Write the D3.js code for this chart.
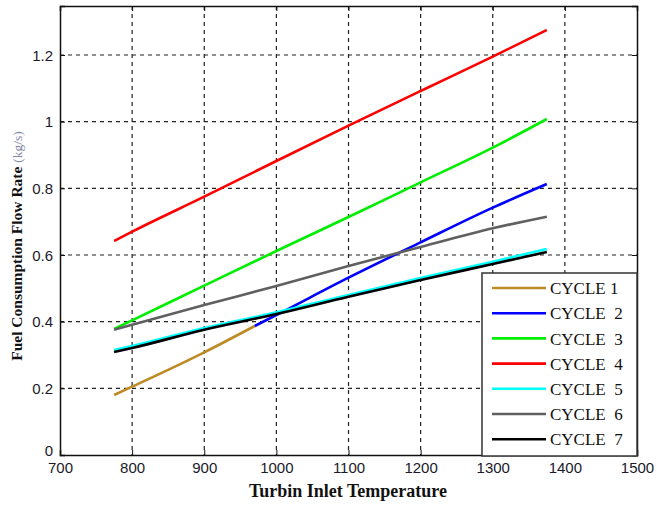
<!DOCTYPE html>
<html><head><meta charset="utf-8">
<script src="https://cdn.jsdelivr.net/npm/d3@7"></script>
<style>body{margin:0;background:#fff}svg{display:block}</style>
</head><body><svg id="c" width="657" height="506"></svg>
<script>
const xTicks = [700,800,900,1000,1100,1200,1300,1400,1500];
const yTicks = [0,0.2,0.4,0.6,0.8,1,1.2];
const seriesNames = ["CYCLE 1","CYCLE  2","CYCLE  3","CYCLE  4","CYCLE  5","CYCLE  6","CYCLE  7"];
const seriesColors = ["#bd8a26","#0000ff","#00ee00","#ff0000","#00ffff","#606060","#000000"];
const tempFull = [775,800,900,1000,1100,1200,1300,1375];
const temp1 = [775,800,900,970];
const temp2 = [970,1000,1100,1200,1300,1375];
const cycle1 = [0.180,0.205,0.308,0.387];
const cycle2 = [0.387,0.420,0.532,0.638,0.742,0.813];
const cycle3 = [0.378,0.404,0.508,0.612,0.714,0.818,0.922,1.008];
const cycle4 = [0.642,0.670,0.775,0.882,0.988,1.092,1.195,1.275];
const cycle5 = [0.315,0.327,0.381,0.428,0.480,0.531,0.580,0.618];
const cycle6 = [0.376,0.391,0.450,0.507,0.567,0.624,0.680,0.715];
const cycle7 = [0.309,0.321,0.376,0.423,0.475,0.525,0.573,0.609];

const series = [
  {t:temp1,v:cycle1},{t:temp2,v:cycle2},{t:tempFull,v:cycle3},{t:tempFull,v:cycle4},
  {t:tempFull,v:cycle5},{t:tempFull,v:cycle6},{t:tempFull,v:cycle7}
].map((s,i)=>({name:seriesNames[i],color:seriesColors[i],pts:s.t.map((t,j)=>[t,s.v[j]])}));

const svg = d3.select("#c");
const L=60,R=637,T=6,B=455;
const x = d3.scaleLinear().domain([700,1500]).range([L,R]);
const y = d3.scaleLinear().domain([0,1.347]).range([B,T]);

// grid
const g = svg.append("g");
g.selectAll(".gx").data(xTicks.slice(1,-1)).enter().append("line")
  .attr("x1",d=>x(d)).attr("x2",d=>x(d)).attr("y1",T).attr("y2",B)
  .attr("stroke","#222").attr("stroke-width",1.2).attr("stroke-dasharray","4,4");
g.selectAll(".gy").data(yTicks.slice(1)).enter().append("line")
  .attr("y1",d=>y(d)).attr("y2",d=>y(d)).attr("x1",L).attr("x2",R)
  .attr("stroke","#222").attr("stroke-width",1.2).attr("stroke-dasharray","4,4");

// lines
const line = d3.line().x(d=>x(d[0])).y(d=>y(d[1])).curve(d3.curveMonotoneX);
series.forEach(s=>{
  svg.append("path").attr("d",line(s.pts)).attr("fill","none")
    .attr("stroke",s.color).attr("stroke-width",2.6).attr("stroke-linejoin","round");
});

// axes
const ax = svg.append("g").attr("transform",`translate(0,${B})`)
  .call(d3.axisBottom(x).tickValues(xTicks).tickSize(-5).tickPadding(9).tickFormat(d3.format("d")));
const ay = svg.append("g").attr("transform",`translate(${L},0)`)
  .call(d3.axisLeft(y).tickValues(yTicks).tickSize(-5).tickPadding(7).tickFormat(d=>d===0?"0":d3.format("")(d)));
svg.append("g").attr("transform",`translate(0,${T})`)
  .call(d3.axisTop(x).tickValues(xTicks).tickSize(-5).tickFormat(""));
svg.append("g").attr("transform",`translate(${R},0)`)
  .call(d3.axisRight(y).tickValues(yTicks).tickSize(-5).tickFormat(""));
svg.selectAll(".domain").attr("stroke","#111").attr("stroke-width",1.5);
svg.selectAll(".tick line").attr("stroke","#111");
[ax,ay].forEach(a=>a.selectAll("text").attr("font-family","Liberation Sans, Arial, sans-serif")
  .attr("font-size",15).attr("fill","#1a1a2a"));
ax.selectAll("text").attr("dy","0.62em");
ay.selectAll("text").attr("dy","0.35em");
ay.selectAll(".tick").filter(d=>d===0).select("text").attr("dy","0.05em");

// legend
const lg = svg.append("g");
lg.append("rect").attr("x",482).attr("y",273).attr("width",R-482).attr("height",B-273+1)
  .attr("fill","#fff").attr("stroke","#333").attr("stroke-width",1.5);
series.forEach((s,i)=>{
  const yy = 288 + i*25.2;
  lg.append("line").attr("x1",492).attr("x2",546).attr("y1",yy).attr("y2",yy)
    .attr("stroke",s.color).attr("stroke-width",2.6);
  lg.append("text").attr("x",550).attr("y",yy).attr("dy","0.36em")
    .attr("font-family","Liberation Serif, serif").attr("font-size",17).attr("fill","#111")
    .style("white-space","pre").text(s.name);
});

// axis titles
svg.append("text").attr("x",348).attr("y",497).attr("text-anchor","middle")
  .attr("font-family","Liberation Serif, serif").attr("font-weight","bold").attr("font-size",18)
  .attr("fill","#111").text("Turbin Inlet Temperature");
const yt = svg.append("text").attr("transform","translate(22,246) rotate(-90)").attr("text-anchor","middle")
  .attr("font-family","Liberation Serif, serif").attr("font-weight","bold").attr("font-size",15.5).attr("fill","#111");
yt.append("tspan").text("Fuel Consumption Flow Rate ");
yt.append("tspan").attr("font-weight","normal").attr("fill","#7f86a8").attr("font-size",13.5).text("(kg/s)");
</script></body></html>
